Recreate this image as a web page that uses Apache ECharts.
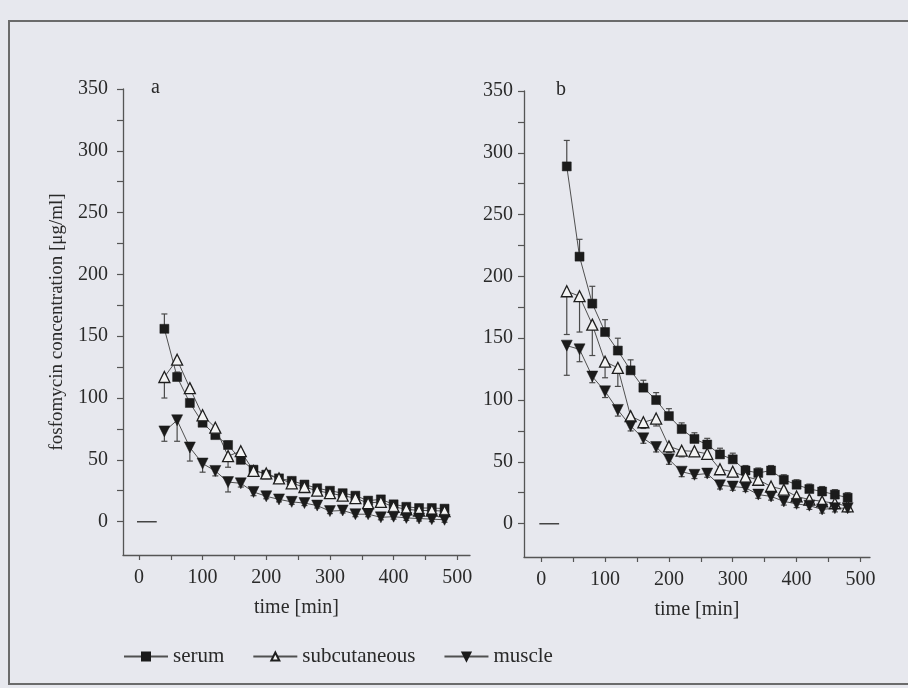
<!DOCTYPE html>
<html>
<head>
<meta charset="utf-8">
<script src="https://cdn.jsdelivr.net/npm/echarts@6/dist/echarts.min.js"></script>
<style>
html,body{margin:0;padding:0;background:#e7e8ee;}
#c{width:908px;height:688px;}
</style>
</head>
<body>
<div id="c"></div>
<script>
// ---- data ----
const times = [40,60,80,100,120,140,160,180,200,220,240,260,280,300,320,340,360,380,400,420,440,460,480];

// panel a
const serumA   = [156,117,96,80,70,62,50,42,38,35,33,30,27,25,23,21,17,18,14,12,11,11,10.5];
const subcutA  = [117,131,108,86,76,53,57,41,39,35,31,28,25,23,21,19,15,16,12,10,9,9,8.5];
const muscleA  = [73,82,60,47,41,32,31,24,20.5,18,16,15,13,8.5,9,6,6,3.5,4,3,2.5,2,1.5];
const serumErrA  = [12,4,3,3,3,3,3,3,2,2,2,2,2,2,2,2,2,2,2,2,2,2,2];
const subcutErrA = [17,4,4,4,4,9,6,4,3,3,3,3,3,3,3,3,3,3,3,3,3,3,3];
const muscleErrA = [8,17,11,7,4,8,3,3,2,2,2,2,2,2,2,2,2,2,2,2,2,2,2];

// panel b
const serumB   = [289,216,178,155,140,124,110,100,87,76.5,68.5,64,56,52,43,41,43,35.5,31.5,28,26,23.5,21];
const subcutB  = [188,184,161,131,126,87,82,85,62.5,59,58.5,56.5,44,42,38,35.5,30,27.5,22,19.5,18,16.5,14];
const muscleB  = [144,141,119,107,92,79,69,62,52,42,39.5,40.5,31,30,29,23.5,22,18,16,14.5,11.5,12.5,12.5];
const serumErrB  = [21,14,14,10,10,8.5,6,6,6,5,5,5,5,5,4,4,4,4,4,4,4,4,4];
const subcutErrB = [35,29,25,13,15,5,5,6,5,5,4,4,4,4,4,4,4,4,4,3,3,3,3];
const muscleErrB = [24,10,5,5,5,4,4,4,4,4,3,3,3,3,3,3,3,3,3,3,3,3,3];

const zeroDash = [[-3,0],[28,0]];

const yTickLabels = [0,50,100,150,200,250,300,350];
const yTicks = [0,25,50,75,100,125,150,175,200,225,250,275,300,325,350];
const xTickLabels = [0,100,200,300,400,500];
const xTicks = [0,50,100,150,200,250,300,350,400,450,500];

// ---- chart ----
const FONT = 'Liberation Serif';
const INK = '#2a2a2a';
const AX = '#555';

function xAxisDef(gi, min, max){
  return {
    type:'value', gridIndex:gi, min:min, max:max, position:'bottom',
    name:'time [min]', nameLocation:'middle', nameGap:43,
    nameTextStyle:{fontFamily:FONT,fontSize:20,color:INK},
    axisLine:{show:true,onZero:false,lineStyle:{color:AX,width:1.3}},
    axisTick:{show:true,length:5,customValues:xTicks,lineStyle:{color:AX,width:1.2}},
    axisLabel:{customValues:xTickLabels,fontFamily:FONT,fontSize:20,color:INK,margin:13},
    splitLine:{show:false}
  };
}
function yAxisDef(gi, withName, margin){
  return {
    type:'value', gridIndex:gi, min:-27, max:350,
    name: withName ? 'fosfomycin concentration [\u03bcg/ml]' : '',
    nameLocation:'middle', nameGap:56, nameRotate:90,
    nameTextStyle:{fontFamily:FONT,fontSize:19,color:INK},
    axisLine:{show:true,onZero:false,lineStyle:{color:AX,width:1.3}},
    axisTick:{show:true,length:6,customValues:yTicks,lineStyle:{color:AX,width:1.2}},
    axisLabel:{customValues:yTickLabels,fontFamily:FONT,fontSize:20,color:INK,margin:margin},
    splitLine:{show:false}
  };
}

function lineSeries(name, gi, vals, kind){
  const s = {
    name:name, type:'line', xAxisIndex:gi, yAxisIndex:gi, z:3,
    data: times.map((t,i)=>[t, vals[i]]),
    lineStyle:{color:'#505050',width:1},
    showSymbol:true, animation:false
  };
  if(kind==='sq'){
    s.symbol='rect'; s.symbolSize=9;
    s.itemStyle={color:'#1b1b1b',borderColor:'#1b1b1b',borderWidth:0.5};
  } else if(kind==='tri'){
    s.symbol='triangle'; s.symbolSize=11;
    s.itemStyle={color:'#f3f3f3',borderColor:'#1e1e1e',borderWidth:1.3};
  } else {
    s.symbol='triangle'; s.symbolSize=11; s.symbolRotate=180;
    s.itemStyle={color:'#1b1b1b',borderColor:'#1b1b1b',borderWidth:0.5};
  }
  return s;
}

function errSeries(gi, vals, errs, dir){
  return {
    type:'custom', xAxisIndex:gi, yAxisIndex:gi, z:2, silent:true, animation:false,
    data: times.map((t,i)=>[t, vals[i], errs[i]]),
    renderItem:function(params, api){
      const x = api.value(0), y = api.value(1), e = api.value(2);
      const p0 = api.coord([x,y]);
      const p1 = api.coord([x, y + dir*e]);
      return {type:'group', children:[
        {type:'line', shape:{x1:p0[0],y1:p0[1],x2:p1[0],y2:p1[1]}, style:{stroke:'#4a4a4a',lineWidth:1.2}},
        {type:'line', shape:{x1:p1[0]-3,y1:p1[1],x2:p1[0]+3,y2:p1[1]}, style:{stroke:'#4a4a4a',lineWidth:1.2}}
      ]};
    }
  };
}

function dashSeries(gi){
  return {
    type:'line', xAxisIndex:gi, yAxisIndex:gi, data:zeroDash, symbol:'none',
    lineStyle:{color:'#444',width:1.5}, silent:true, animation:false, z:1
  };
}

const chart = echarts.init(document.getElementById('c'), null, {renderer:'canvas'});
chart.setOption({
  backgroundColor:'#e7e8ee',
  animation:false,
  grid:[
    {left:123, top:89, width:347, height:466},
    {left:524, top:91, width:346, height:466}
  ],
  xAxis:[ xAxisDef(0,-25,520), xAxisDef(1,-27,515) ],
  yAxis:[ yAxisDef(0,true,15), yAxisDef(1,false,11) ],
  legend:{
    data:['serum','subcutaneous','muscle'],
    left:118, top:641, itemWidth:44, itemHeight:10, itemGap:28,
    textStyle:{fontFamily:FONT,fontSize:21,color:INK}
  },
  graphic:[
    {type:'rect', shape:{x:9,y:21,width:940,height:663}, style:{fill:'none',stroke:'#6b6b6b',lineWidth:2}, silent:true},
    {type:'text', left:151, top:78, style:{text:'a',fontFamily:FONT,fontSize:20,fill:INK}},
    {type:'text', left:556, top:80, style:{text:'b',fontFamily:FONT,fontSize:20,fill:INK}}
  ],
  series:[
    dashSeries(0), dashSeries(1),
    errSeries(0, serumA, serumErrA, 1),
    errSeries(0, subcutA, subcutErrA, -1),
    errSeries(0, muscleA, muscleErrA, -1),
    errSeries(1, serumB, serumErrB, 1),
    errSeries(1, subcutB, subcutErrB, -1),
    errSeries(1, muscleB, muscleErrB, -1),
    lineSeries('serum',0,serumA,'sq'),
    lineSeries('subcutaneous',0,subcutA,'tri'),
    lineSeries('muscle',0,muscleA,'inv'),
    lineSeries('serum',1,serumB,'sq'),
    lineSeries('subcutaneous',1,subcutB,'tri'),
    lineSeries('muscle',1,muscleB,'inv')
  ]
});
</script>
</body>
</html>
